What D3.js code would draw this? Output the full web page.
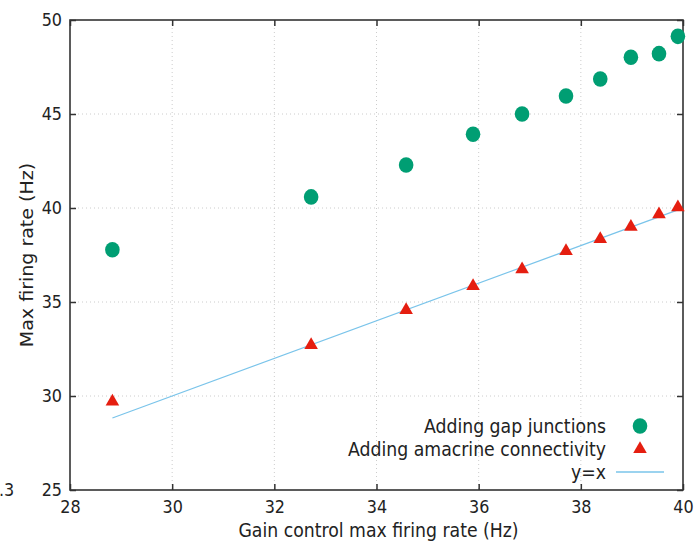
<!DOCTYPE html>
<html><head><meta charset="utf-8">
<script src="https://cdn.jsdelivr.net/npm/d3@7"></script>
<style>body{margin:0;background:#fff}svg{display:block}text{font-family:"DejaVu Sans",sans-serif;fill:#222}
.st{transform-box:fill-box;transform-origin:center;transform:scaleY(1.1)}</style>
</head><body><svg id="c" width="696" height="544"></svg>
<script>
const xTicks=[28,30,32,34,36,38,40];
const yTicks=[25,30,35,40,45,50];
const gainX=[28.83,32.72,34.58,35.89,36.85,37.71,38.38,38.98,39.53,39.90];
const gapY=[37.78,40.59,42.29,43.92,45.0,45.96,46.86,48.02,48.21,49.13];
const amaY=[29.70,32.71,34.57,35.85,36.74,37.71,38.35,39.0,39.66,40.04];
const legendLabels=["Adding gap junctions","Adding amacrine connectivity","y=x"];

const svg=d3.select("#c");
const L=70,R=683,T=20,B=490;
const x=d3.scaleLinear().domain([28,40]).range([L,R]);
const y=d3.scaleLinear().domain([25,50]).range([B,T]);

// grid
const g=svg.append("g");
g.selectAll(".gx").data(xTicks.slice(1,-1)).enter().append("line")
 .attr("x1",d=>x(d)).attr("x2",d=>x(d)).attr("y1",T).attr("y2",B)
 .attr("stroke","#ccc").attr("stroke-width",1).attr("stroke-dasharray","1,3");
g.selectAll(".gy").data(yTicks.slice(1,-1)).enter().append("line")
 .attr("y1",d=>y(d)).attr("y2",d=>y(d)).attr("x1",L).attr("x2",R)
 .attr("stroke","#ccc").attr("stroke-width",1).attr("stroke-dasharray","1,3");

// axes
const ax=svg.append("g").attr("transform",`translate(0,${B})`)
 .call(d3.axisBottom(x).tickValues(xTicks).tickSize(-6).tickPadding(11).tickFormat(d3.format("d")));
const axT=svg.append("g").attr("transform",`translate(0,${T})`)
 .call(d3.axisTop(x).tickValues(xTicks).tickSize(-6).tickFormat(""));
const ay=svg.append("g").attr("transform",`translate(${L},0)`)
 .call(d3.axisLeft(y).tickValues(yTicks).tickSize(-6).tickPadding(8).tickFormat(d3.format("d")));
const ayR=svg.append("g").attr("transform",`translate(${R},0)`)
 .call(d3.axisRight(y).tickValues(yTicks).tickSize(-6).tickFormat(""));
[ax,axT,ay,ayR].forEach(a=>{
 a.select(".domain").remove();
 a.selectAll(".tick line").attr("stroke","#333").attr("stroke-width",1.5);
 a.selectAll("text").attr("class","st").style("font-size","16px").attr("fill","#222");
});
svg.append("rect").attr("x",L).attr("y",T).attr("width",R-L).attr("height",B-T)
 .attr("fill","none").attr("stroke","#333").attr("stroke-width",1.6);

// y=x line
svg.append("line").attr("x1",x(gainX[0])).attr("y1",y(gainX[0]))
 .attr("x2",x(gainX[gainX.length-1])).attr("y2",y(gainX[gainX.length-1]))
 .attr("stroke","#7ac4ea").attr("stroke-width",1.3);

// points
svg.selectAll(".gp").data(gainX).enter().append("ellipse")
 .attr("cx",d=>x(d)).attr("cy",(d,i)=>y(gapY[i])).attr("rx",7.3).attr("ry",7.8).attr("fill","#009e73");
const tri=d3.symbol().type(d3.symbolTriangle).size(80);
svg.selectAll(".ap").data(gainX).enter().append("path")
 .attr("d",tri).attr("transform",(d,i)=>`translate(${x(d)},${y(amaY[i])})`).attr("fill","#e51e10");

// legend
const lg=svg.append("g");
const ly=[426,449,472];
lg.selectAll("text").data(legendLabels).enter().append("text").attr("class","st")
 .attr("x",606).attr("y",(d,i)=>ly[i]+6).attr("text-anchor","end").style("font-size","17.3px").text(d=>d);
lg.append("ellipse").attr("cx",640).attr("cy",ly[0]).attr("rx",7.3).attr("ry",7.8).attr("fill","#009e73");
lg.append("path").attr("d",tri).attr("transform",`translate(640,${ly[1]})`).attr("fill","#e51e10");
lg.append("line").attr("x1",616).attr("x2",664).attr("y1",ly[2]).attr("y2",ly[2]).attr("stroke","#7ac4ea").attr("stroke-width",1.3);

// axis labels
svg.append("text").attr("class","st").attr("x",(L+R)/2+2).attr("y",536).attr("text-anchor","middle").style("font-size","17.3px").text("Gain control max firing rate (Hz)");
svg.append("text").attr("transform",`translate(33,${(T+B)/2}) rotate(-90) scale(1.1,1)`).attr("text-anchor","middle").style("font-size","17.3px").text("Max firing rate (Hz)");
// stray label (partially visible in reference)
svg.append("text").attr("class","st").attr("x",-1).attr("y",495).attr("text-anchor","start").style("font-size","16px").text(".3");
</script></body></html>
